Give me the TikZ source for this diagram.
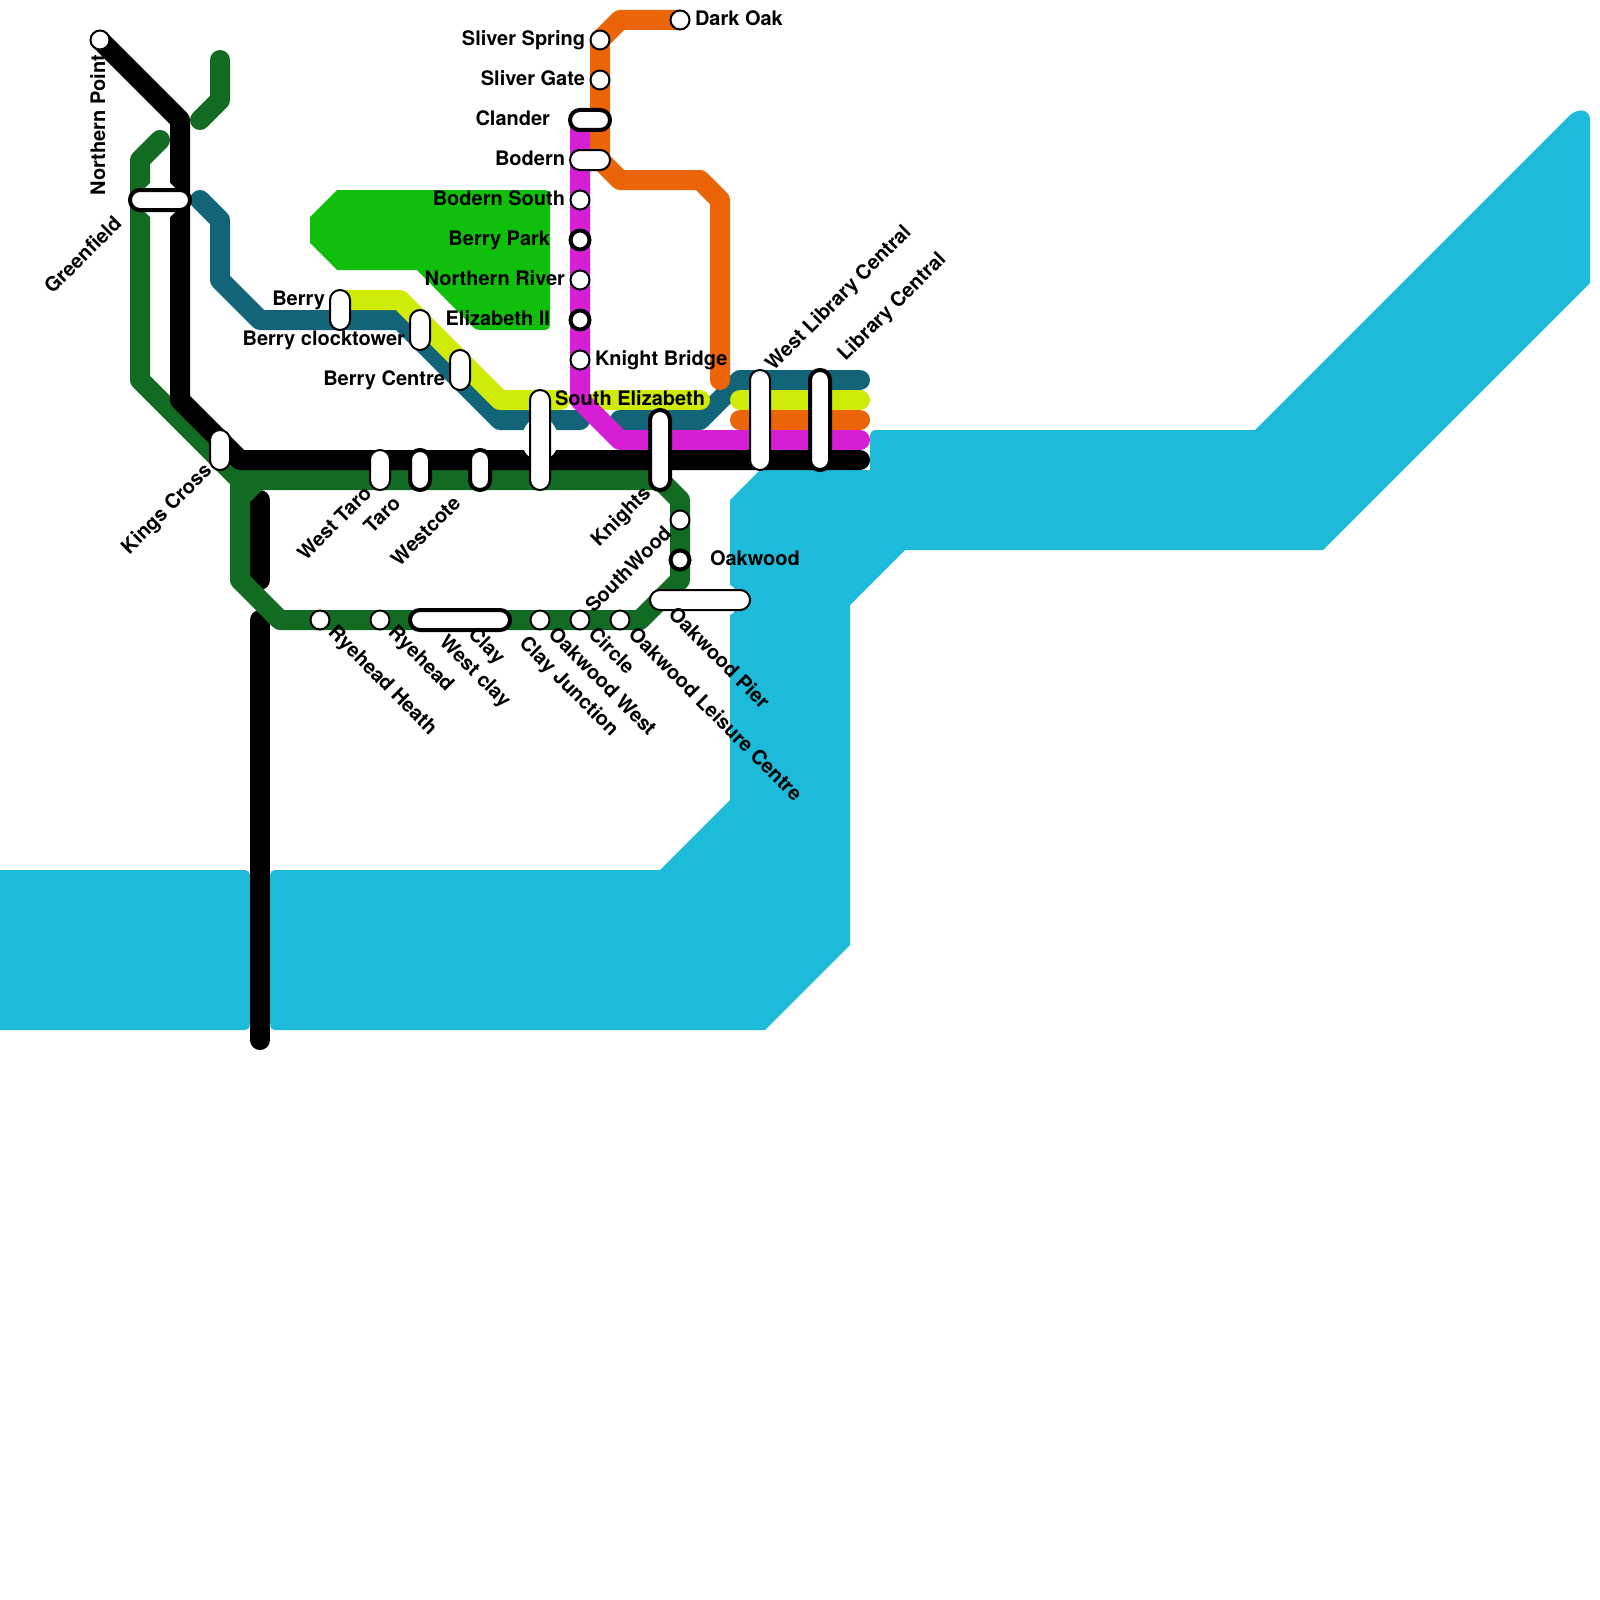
\documentclass[tikz,border=0pt]{standalone}
\usepackage{fontspec}
\setmainfont{TeX Gyre Heros}[BoldFont={TeX Gyre Heros Bold}]
\usetikzlibrary{shapes.misc}
\definecolor{river}{HTML}{1DBBD9}
\definecolor{park}{HTML}{10BF0B}
\definecolor{forest}{HTML}{126B22}
\definecolor{teal}{HTML}{126579}
\definecolor{lime}{HTML}{CFEB07}
\definecolor{orange}{HTML}{EC6408}
\definecolor{magenta}{HTML}{D61FD4}
\tikzset{
  route/.style={line width=10pt,line cap=round,line join=round},
  stn/.style={circle,draw=black,fill=white,line width=1pt,inner sep=0pt,outer sep=0pt,minimum size=9.5pt},
  stnx/.style={stn,line width=2pt},
  vpill/.style={rectangle,draw=black,fill=white,line width=1pt,inner sep=0pt,outer sep=0pt,rounded corners=4.95pt,minimum width=10pt,minimum height=#1},
  vpillx/.style={vpill=#1,line width=2pt},
  hpill/.style={rectangle,draw=black,fill=white,line width=1pt,inner sep=0pt,outer sep=0pt,rounded corners=4.95pt,minimum height=10pt,minimum width=#1},
  hpillx/.style={hpill=#1,line width=2pt},
  lbl/.style={font=\bfseries\fontsize{10pt}{12pt}\selectfont,inner sep=0pt,outer sep=0pt,text=black},
  lr/.style={lbl,anchor=mid east},
  ll/.style={lbl,anchor=mid west},
  up/.style={lbl,anchor=mid east,rotate=45},
  upw/.style={lbl,anchor=mid west,rotate=45},
  down/.style={lbl,anchor=mid west,rotate=-45},
}
\begin{document}
\begin{tikzpicture}[x=.5pt,y=-.5pt]
\useasboundingbox (0,0) rectangle (1600,1600);
\fill[white] (0,0) rectangle (1600,1600);
% water
\fill[river,rounded corners=2.5pt] (-20,870) -- (250,870) -- (250,1030) -- (-20,1030) -- cycle;
\fill[river] (275,870) -- (660,870) -- (730,800) -- (730,500) -- (760,470) -- (870,470) -- (870,437) .. controls (870,432) and (872,430) .. (877,430) -- (1255,430) -- (1570,115) .. controls (1580,107) and (1590,110) .. (1590,120) -- (1590,283) -- (1323,550) -- (905,550) -- (850,605) -- (850,945) -- (765,1030) -- (275,1030) .. controls (272,1030) and (270,1028) .. (270,1025) -- (270,875) .. controls (270,872) and (272,870) .. (275,870) -- cycle;
% park
\fill[park] (337,190) -- (545,190) .. controls (548,190) and (550,192) .. (550,195) -- (550,325) .. controls (550,328) and (548,330) .. (545,330) -- (480,330) .. controls (477,330) and (475,329) .. (473,327) -- (417,270) -- (337,270) -- (310,243) -- (310,217) -- cycle;
% lower black
\draw[route,black] (260,500) -- (260,580);
\draw[route,black] (260,620) -- (260,1040);
% teal
\draw[route,teal] (200,200) -- (220,220) -- (220,280) -- (260,320) -- (400,320) -- (500,420) -- (580,420);
\draw[route,teal] (620,420) -- (700,420) -- (740,380) -- (860,380);
% lime
\draw[route,lime] (340,300) -- (400,300) -- (500,400) -- (560,400);
\draw[route,lime] (600,400) -- (700,400);
\draw[route,lime] (740,400) -- (860,400);
% orange
\draw[route,orange] (680,20) -- (620,20) -- (600,40) -- (600,160) -- (620,180) -- (700,180) -- (720,200) -- (720,380);
\draw[route,orange] (740,420) -- (860,420);
% magenta
\draw[route,magenta] (580,120) -- (580,400) -- (620,440) -- (860,440);
% forest
\draw[route,forest] (220,60) -- (220,100) -- (200,120);
\draw[route,forest] (160,140) -- (140,160) -- (140,380) -- (240,480) -- (660,480) -- (680,500) -- (680,580) -- (640,620) -- (280,620) -- (240,580) -- (240,480);
\fill[forest] (249,489) -- (263,489) -- (249,503) -- cycle;
% upper black
\draw[route,black] (100,40) -- (180,120) -- (180,400) -- (240,460) -- (860,460);
% white casings
\fill[white] (150,183) -- (170,183) -- (177,190) -- (177,210) -- (170,217) -- (150,217) -- (143,210) -- (143,190) -- cycle;
\fill[white,rounded corners=2pt] (530,420) -- (550,420) -- (557,430) -- (557,450) -- (550,458) -- (530,458) -- (523,450) -- (523,430) -- cycle;
\fill[white,rounded corners=2pt] (688,584) -- (730,584) -- (736,590) -- (736,610) -- (730,616) -- (688,616) -- cycle;
% stations
\node[stn] (northernpoint) at (100,40) {};
\node[hpillx=30pt] (greenfield) at (160,200) {};
\node[vpill=20pt] (kingscross) at (220,450) {};
\node[vpill=20pt] (berry) at (340,310) {};
\node[vpill=20pt] (clocktower) at (420,330) {};
\node[vpill=20pt] (berrycentre) at (460,370) {};
\node[vpill=20pt] (westtaro) at (380,470) {};
\node[vpillx=20pt] (taro) at (420,470) {};
\node[vpillx=20pt] (westcote) at (480,470) {};
\node[vpill=50pt] (southeliz) at (540,440) {};
\node[vpillx=40pt] (knights) at (660,450) {};
\node[vpill=50pt] (westlib) at (760,420) {};
\node[vpillx=50pt] (lib) at (820,420) {};
\node[stn] (darkoak) at (680,20) {};
\node[stn] (sliverspring) at (600,40) {};
\node[stn] (slivergate) at (600,80) {};
\node[hpillx=20pt] (clander) at (590,120) {};
\node[hpill=20pt] (bodern) at (590,160) {};
\node[stn] (bodernsouth) at (580,200) {};
\node[stnx] (berrypark) at (580,240) {};
\node[stn] (northernriver) at (580,280) {};
\node[stnx] (elizabeth) at (580,320) {};
\node[stn] (knightbridge) at (580,360) {};
\node[stn] (southwood) at (680,520) {};
\node[stnx] (oakwood) at (680,560) {};
\node[hpill=50pt] (oakwoodpier) at (700,600) {};
\node[stn] (ryeheadheath) at (320,620) {};
\node[stn] (ryehead) at (380,620) {};
\node[hpillx=50pt] (clay) at (460,620) {};
\node[stn] (oakwoodwest) at (540,620) {};
\node[stn] (circlest) at (580,620) {};
\node[stn] (leisure) at (620,620) {};
% labels
\node[lbl,anchor=mid east,rotate=90] (t1) at (100,55) {Northern Point};
\node[up] (t2) at (119,221) {Greenfield};
\node[up] (t3) at (209,468) {Kings Cross};
\node[lr] (t4) at (325,300) {Berry};
\node[lr] (t5) at (405,340) {Berry clocktower};
\node[lr] (t6) at (445,380) {Berry Centre};
\node[up] (t7) at (369,491) {West Taro};
\node[up] (t8) at (398,501) {Taro};
\node[up] (t9) at (458,501) {Westcote};
\node[up] (t10) at (648,491) {Knights};
\node[up] (t11) at (669,531) {SouthWood};
\node[ll] (t12) at (710,560) {Oakwood};
\node[ll] (t13) at (695,20) {Dark Oak};
\node[lr] (t14) at (585,40) {Sliver Spring};
\node[lr] (t15) at (585,80) {Sliver Gate};
\node[lr] (t16) at (550,120) {Clander};
\node[lr] (t17) at (565,160) {Bodern};
\node[lr] (t18) at (565,200) {Bodern South};
\node[lr] (t19) at (550,240) {Berry Park};
\node[lr] (t20) at (565,280) {Northern River};
\node[lr] (t21) at (550,320) {Elizabeth II};
\node[ll] (t22) at (595,360) {Knight Bridge};
\node[lr] (t23) at (705,400) {South Elizabeth};
\node[upw] (t24) at (770,368) {West Library Central};
\node[upw] (t25) at (842,358) {Library Central};
\node[down] (t26) at (331,630) {Ryehead Heath};
\node[down] (t27) at (391,630) {Ryehead};
\node[down] (t28) at (442,640) {West clay};
\node[down] (t29) at (471,632) {Clay};
\node[down] (t30) at (522,641) {Clay Junction};
\node[down] (t31) at (551,632) {Oakwood West};
\node[down] (t32) at (591,632) {Circle};
\node[down] (t33) at (631,632) {Oakwood Leisure Centre};
\node[down] (t34) at (671,612) {Oakwood Pier};
\end{tikzpicture}
\end{document}
